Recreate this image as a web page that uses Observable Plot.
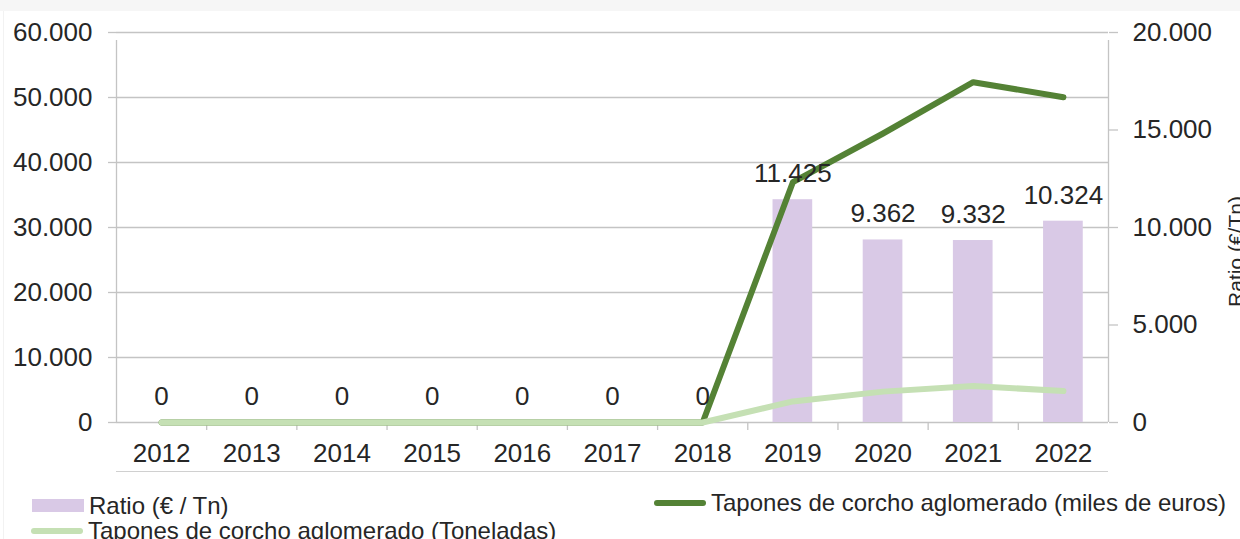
<!DOCTYPE html>
<html>
<head>
<meta charset="utf-8">
<script src="https://cdn.jsdelivr.net/npm/d3@7"></script>
<script src="https://cdn.jsdelivr.net/npm/@observablehq/plot@0.6"></script>
<style>
  html, body { margin: 0; padding: 0; background: #fff; }
  #wrap { position: relative; width: 1240px; height: 539px; overflow: hidden; font-family: "Liberation Sans", Arial, sans-serif; color: #262626; }
  #topband { position: absolute; left: 0; top: 0; width: 1240px; height: 11px; background: #f6f6f6; }
  #leftedge { position: absolute; left: 3px; top: 11px; width: 1px; height: 528px; background: #f2f2f2; }
  #chart { position: absolute; left: 0; top: 0; }
  .leg { position: absolute; font-size: 24px; line-height: 26px; white-space: nowrap; }
  .sw { position: absolute; }
</style>
</head>
<body>
<div id="wrap">
  <div id="topband"></div>
  <div id="leftedge"></div>
  <div id="chart"></div>
</div>
<script>
const years = [2012, 2013, 2014, 2015, 2016, 2017, 2018, 2019, 2020, 2021, 2022];
const ratio = [0, 0, 0, 0, 0, 0, 0, 11425, 9362, 9332, 10324];
const eurosMiles = [0, 0, 0, 0, 0, 0, 0, 36970, 44460, 52350, 50050];
const toneladas = [0, 0, 0, 0, 0, 0, 0, 3240, 4750, 5610, 4850];
const leftTicks = [0, 10000, 20000, 30000, 40000, 50000, 60000];
const rightTicks = [0, 5000, 10000, 15000, 20000];
const seriesNames = ["Ratio (€ / Tn)", "Tapones de corcho aglomerado (miles de euros)", "Tapones de corcho aglomerado (Toneladas)"];
const rightTitle = "Ratio (€/Tn)";

const colors = { ratio: "#d9c9e6", euros: "#548235", tons: "#c5e0b4" };
const gridColor = "#c4c4c4";
const scaleR = 3; // right axis max 20.000 maps onto left axis max 60.000

const es = d3.formatLocale({ decimal: ",", thousands: ".", grouping: [3], currency: ["", " €"] });
const fmt = es.format(",d");

const data = years.map((y, i) => ({ year: y, ratio: ratio[i], euros: eurosMiles[i], tons: toneladas[i] }));
const bounds = years.slice(0, -1).map(y => y + 0.5);
const x0 = years[0] - 0.5, x1 = years[years.length - 1] + 0.5;

const chart = Plot.plot({
  width: 1240,
  height: 480,
  marginTop: 32,
  marginBottom: 58,
  marginLeft: 116,
  marginRight: 132,
  style: { fontFamily: "'Liberation Sans', Arial, sans-serif", fontSize: "26px", color: "#262626", background: "transparent", overflow: "visible" },
  x: { type: "linear", domain: [x0, x1] },
  y: { domain: [0, 60000] },
  marks: [
    Plot.gridY(leftTicks, { stroke: gridColor, strokeOpacity: 1, strokeWidth: 1.3 }),
    Plot.axisY(leftTicks, { anchor: "left", tickSize: 8, tickPadding: 16, stroke: gridColor, strokeWidth: 1.3, fill: "#262626", tickFormat: fmt, label: null }),
    Plot.axisY(rightTicks.map(v => v * scaleR), { anchor: "right", tickSize: 9, tickPadding: 15, stroke: gridColor, strokeWidth: 1.3, fill: "#262626", tickFormat: d => fmt(d / scaleR), label: null }),
    Plot.ruleX([x0, x1], { y1: 0, y2: 60000, insetBottom: -8, stroke: gridColor, strokeWidth: 1.3 }),
    Plot.ruleX(bounds, { y1: 0, y2: 0, insetBottom: -8, stroke: gridColor, strokeWidth: 1.3 }),
    Plot.axisX(years, { anchor: "bottom", tickSize: 0, tickPadding: 21, tickFormat: d => String(d), fill: "#262626", label: null }),
    Plot.rectY(data, { x1: d => d.year - 0.22, x2: d => d.year + 0.22, y1: 0, y2: d => d.ratio * scaleR, fill: colors.ratio }),
    Plot.line(data, { x: "year", y: "euros", stroke: colors.euros, strokeWidth: 6, strokeLinecap: "round", strokeLinejoin: "round" }),
    Plot.line(data, { x: "year", y: "tons", stroke: colors.tons, strokeWidth: 6, strokeLinecap: "round", strokeLinejoin: "round" }),
    Plot.text(data, { x: "year", y: d => d.ratio * scaleR, text: d => fmt(d.ratio), dy: -26, fill: "#262626", fontSize: 26 }),
    Plot.text([rightTitle], { frameAnchor: "right", textAnchor: "middle", dx: 128, dy: 24, rotate: -90, fontSize: 21, fill: "#262626" })
  ]
});
document.getElementById("chart").appendChild(chart);

// separator under the year labels
const sep = document.createElement("div");
sep.style.cssText = "position:absolute;left:116px;top:471px;width:992px;height:1px;background:#d0d0d0;";
document.getElementById("wrap").appendChild(sep);

// legend (HTML)
const wrap = document.getElementById("wrap");
function legendItem(name, color, kind, left, top) {
  const sw = document.createElement("div");
  sw.className = "sw";
  if (kind === "rect") {
    sw.style.cssText = `left:${left}px;top:${top + 6}px;width:52px;height:13px;background:${color};`;
  } else {
    sw.style.cssText = `left:${left}px;top:${top + 10}px;width:52px;height:6px;border-radius:3px;background:${color};`;
  }
  wrap.appendChild(sw);
  const t = document.createElement("div");
  t.className = "leg";
  t.style.left = (left + 57) + "px";
  t.style.top = top + "px";
  t.textContent = name;
  wrap.appendChild(t);
}
legendItem(seriesNames[0], colors.ratio, "rect", 32, 493);
legendItem(seriesNames[1], colors.euros, "line", 654, 490);
legendItem(seriesNames[2], colors.tons, "line", 31, 518);
</script>
</body>
</html>
